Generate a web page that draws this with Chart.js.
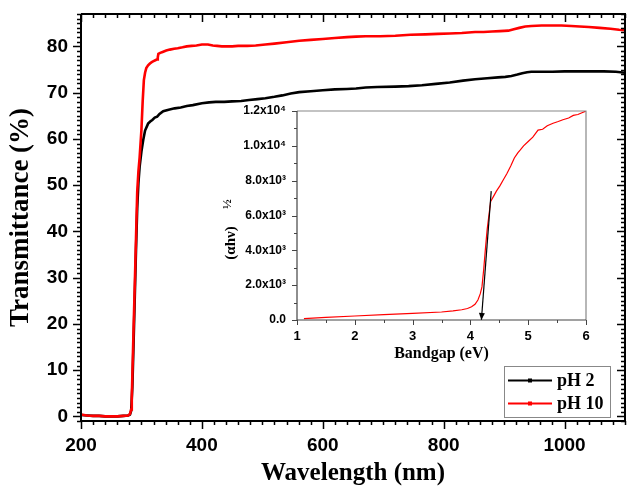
<!DOCTYPE html>
<html><head><meta charset="utf-8">
<script src="https://cdn.jsdelivr.net/npm/chart.js@4"></script>
<style>
html,body{margin:0;padding:0;background:#fff}
#wrap{position:relative;width:628px;height:490px;overflow:hidden}
canvas{position:absolute;left:0;top:0}
#inset{pointer-events:none}
</style></head>
<body>
<div id="wrap"><canvas id="main" width="628" height="490"></canvas><canvas id="inset" width="628" height="490"></canvas></div>
<script>
// ---------- main chart data ----------
const wl2 = [200,210,220,230,240,250,260,270,278,281,283,285,287,289,291,293,295,297,300,303,306,311,315,318,322,326,330,336,345,355,365,375,385,400,412,423,437,450,465,478,492,505,520,533,547,561,580,600,620,640,655,671,690,720,742,764,787,810,832,852,872,890,902,912,922,930,938,945,960,980,1000,1020,1040,1065,1085,1100];
const t2 = [0.3,0.2,0.1,0.1,0.0,0.0,0.0,0.1,0.2,0.4,1.2,6.5,16,26,36,45,50.5,54,57.3,59.8,61.8,63.3,63.8,64.1,64.6,64.8,65.4,66.0,66.3,66.6,66.8,67.1,67.3,67.7,67.9,68.0,68.0,68.1,68.2,68.4,68.6,68.8,69.1,69.4,69.8,70.1,70.3,70.5,70.7,70.8,70.9,71.1,71.2,71.3,71.4,71.6,71.9,72.2,72.6,72.9,73.1,73.3,73.4,73.6,73.9,74.2,74.4,74.5,74.5,74.5,74.6,74.6,74.6,74.6,74.5,74.3];
const wl10 = [200,210,220,230,240,250,260,270,278,281,283,284,285,287,289,291,293,295,297,300,302,304,306,308,311,314,317,320,323,326,327,328,331,335,341,347,354,360,368,375,383,391,400,410,418,425,433,440,450,460,475,489,505,520,540,561,580,600,620,640,655,671,695,720,745,770,790,810,830,852,866,880,893,907,916,925,935,945,962,980,995,1011,1025,1040,1058,1076,1090,1100];
const t10 = [0.4,0.2,0.1,0.1,0.0,0.0,0.0,0.1,0.2,0.5,1.5,4,9,19,28.5,38.5,48.5,53,56,62,68,72.7,74.3,75.3,75.9,76.3,76.6,76.8,77.0,77.2,77.6,78.4,78.6,78.8,79.1,79.3,79.5,79.6,79.8,80.0,80.1,80.2,80.4,80.4,80.2,80.1,80.0,80.0,80.0,80.1,80.1,80.2,80.4,80.6,80.9,81.2,81.4,81.6,81.8,82.0,82.1,82.2,82.2,82.3,82.5,82.6,82.7,82.8,82.9,83.1,83.1,83.2,83.3,83.4,83.7,84.0,84.3,84.4,84.5,84.5,84.5,84.4,84.3,84.2,84.0,83.8,83.6,83.5];
const xTicks = [200,400,600,800,1000];
const yTicks = [0,10,20,30,40,50,60,70,80];
const seriesNames = ['pH 2','pH 10'];

// ---------- inset data ----------
const bgEv = [1.12,1.5,2.0,2.5,3.0,3.5,3.7,3.85,3.95,4.02,4.08,4.13,4.17,4.2,4.23,4.26,4.29,4.32,4.35,4.4,4.45,4.51,4.57,4.63,4.7,4.76,4.82,4.86,4.92,5.0,5.08,5.17,5.25,5.33,5.43,5.52,5.6,5.7,5.78,5.86,5.93,6.0];
const bgVal = [80,150,230,310,385,460,520,590,660,760,900,1150,1500,1900,2900,4100,5200,6000,6800,7100,7400,7700,8050,8400,8850,9300,9600,9750,10000,10250,10500,10900,10950,11150,11300,11400,11500,11600,11750,11800,11900,12000];
const tanEv = [4.19,4.36];
const tanVal = [0,7400];
const insetXTicks = [1,2,3,4,5,6];
const insetYTicks = [0,2000,4000,6000,8000,10000,12000];
const insetYLabels = ['0.0','2.0x10³','4.0x10³','6.0x10³','8.0x10³','1.0x10⁴','1.2x10⁴'];

const SANS = "'Liberation Sans', Arial, sans-serif";
const SERIF = "'Liberation Serif', 'Times New Roman', serif";

function zeroPad(s){ s.paddingTop=0; s.paddingBottom=0; s.paddingLeft=0; s.paddingRight=0; }

function makeFrame(id){
  return {
    id: id,
    afterDraw(chart, args, o){
      const {ctx, chartArea:a, scales:{x,y}} = chart;
      ctx.save();
      ctx.lineCap='butt';
      ctx.strokeStyle=o.tickColor; ctx.lineWidth=o.tickWidth;
      ctx.beginPath();
      const isMaj=(v,m)=>Math.abs(v/m-Math.round(v/m))<1e-6;
      for(let v=Math.ceil(x.min/o.xMinor-1e-9)*o.xMinor; v<=x.max+1e-9; v+=o.xMinor){
        const p=Math.round(x.getPixelForValue(v))+0.5;
        const L=isMaj(v,o.xMajor)?o.major:o.minor;
        ctx.moveTo(p,a.bottom); ctx.lineTo(p,a.bottom+L);
        if(o.mirror){ctx.moveTo(p,a.top); ctx.lineTo(p,a.top+L);}
      }
      for(let v=Math.ceil(y.min/o.yMinor-1e-9)*o.yMinor; v<=y.max+1e-9; v+=o.yMinor){
        const p=Math.round(y.getPixelForValue(v))+0.5;
        const L=isMaj(v,o.yMajor)?o.major:o.minor;
        ctx.moveTo(a.left,p); ctx.lineTo(a.left-L,p);
        if(o.mirror){ctx.moveTo(a.right,p); ctx.lineTo(a.right-L,p);}
      }
      ctx.stroke();
      ctx.lineWidth=o.width;
      ctx.strokeStyle=o.sideColor;
      ctx.beginPath();
      ctx.moveTo(a.left,a.top); ctx.lineTo(a.right,a.top); ctx.lineTo(a.right,a.bottom);
      ctx.stroke();
      ctx.strokeStyle=o.color;
      ctx.beginPath();
      ctx.moveTo(a.left,a.top); ctx.lineTo(a.left,a.bottom); ctx.lineTo(a.right,a.bottom);
      ctx.stroke();
      ctx.restore();
    }
  };
}

const legendPlugin = {
  id:'boxLegend',
  afterDraw(chart){
    const ctx=chart.ctx;
    const bx=504, by=366, bw=106, bh=51;
    ctx.save();
    ctx.fillStyle='#fff'; ctx.fillRect(bx,by,bw,bh);
    ctx.strokeStyle='#888'; ctx.lineWidth=1;
    ctx.strokeRect(bx+0.5,by+0.5,bw,bh);
    chart.data.datasets.forEach((ds,i)=>{
      const yy=380.5+i*23;
      ctx.strokeStyle=ds.borderColor; ctx.lineWidth=2;
      ctx.beginPath(); ctx.moveTo(508,yy); ctx.lineTo(552,yy); ctx.stroke();
      ctx.fillStyle=ds.borderColor; ctx.fillRect(528,yy-2,4,4);
      ctx.fillStyle='#000';
      ctx.font='bold 18px '+SERIF;
      ctx.textBaseline='middle'; ctx.textAlign='left';
      ctx.fillText(ds.label,557,yy+1);
    });
    ctx.restore();
  }
};

new Chart(document.getElementById('main'),{
  type:'line',
  data:{datasets:[
    {label:seriesNames[0], data:wl2.map((v,i)=>({x:v,y:t2[i]})), borderColor:'#000000', backgroundColor:'#000000', borderWidth:2.6, pointRadius:0, tension:0, order:1},
    {label:seriesNames[1], data:wl10.map((v,i)=>({x:v,y:t10[i]})), borderColor:'#ff0000', backgroundColor:'#ff0000', borderWidth:2.6, pointRadius:0, tension:0, order:0}
  ]},
  options:{
    responsive:false, animation:false, events:[],
    layout:{padding:{left:0,top:14,right:3,bottom:0}},
    plugins:{legend:{display:false}, tooltip:{enabled:false},
      mainFrame:{color:'#000', sideColor:'#000', width:2, tickColor:'#000', tickWidth:1.5, xMinor:20, xMajor:200, yMinor:1, yMajor:10, major:8, minor:4, mirror:true}},
    scales:{
      x:{type:'linear', min:200, max:1100,
        afterBuildTicks:s=>{s.ticks=xTicks.map(v=>({value:v}));},
        afterFit:s=>{s.height=69; zeroPad(s);},
        grid:{display:false, drawTicks:false}, border:{display:false},
        ticks:{callback:v=>String(v), color:'#000', padding:13, maxRotation:0, autoSkip:false, font:{family:SANS,size:19,weight:'bold'}},
        title:{display:true, text:'Wavelength (nm)', color:'#000', font:{family:SERIF,size:25,weight:'bold'}, padding:{top:0,bottom:1}}
      },
      y:{type:'linear', min:-1, max:87,
        afterBuildTicks:s=>{s.ticks=yTicks.map(v=>({value:v}));},
        afterFit:s=>{s.width=81; zeroPad(s);},
        grid:{display:false, drawTicks:false}, border:{display:false},
        ticks:{callback:v=>String(v), color:'#000', padding:13, autoSkip:false, font:{family:SANS,size:19,weight:'bold'}},
        title:{display:true, text:'Transmittance (%)', color:'#000', font:{family:SERIF,size:27,weight:'bold'}, padding:{top:5,bottom:0}}
      }
    }
  },
  plugins:[makeFrame('mainFrame'), legendPlugin]
});

const insetExtras = {
  id:'insetExtras',
  afterDraw(chart){
    const ctx=chart.ctx;
    ctx.save();
    const pts=chart.getDatasetMeta(1).data;
    const p0=pts[0], p1=pts[1];
    const ang=Math.atan2(p0.y-p1.y,p0.x-p1.x);
    const L=7, W=3;
    ctx.fillStyle='#000';
    ctx.beginPath();
    ctx.moveTo(p0.x,p0.y);
    ctx.lineTo(p0.x-L*Math.cos(ang)+W*Math.sin(ang), p0.y-L*Math.sin(ang)-W*Math.cos(ang));
    ctx.lineTo(p0.x-L*Math.cos(ang)-W*Math.sin(ang), p0.y-L*Math.sin(ang)+W*Math.cos(ang));
    ctx.closePath(); ctx.fill();
    ctx.translate(231,243);
    ctx.rotate(-Math.PI/2);
    ctx.fillStyle='#000';
    ctx.textBaseline='middle'; ctx.textAlign='center';
    ctx.font='bold 15px '+SERIF;
    ctx.fillText('(αhν)',0,0);
    ctx.font='bold 13px '+SERIF;
    ctx.fillText('½',39,-3);
    ctx.restore();
  }
};

new Chart(document.getElementById('inset'),{
  type:'line',
  data:{datasets:[
    {label:'bandgap', data:bgEv.map((v,i)=>({x:v,y:bgVal[i]})), borderColor:'#ff0000', borderWidth:1.2, pointRadius:0, tension:0, order:1},
    {label:'tangent', data:tanEv.map((v,i)=>({x:v,y:tanVal[i]})), borderColor:'#000000', borderWidth:1.2, pointRadius:0, tension:0, order:0}
  ]},
  options:{
    responsive:false, animation:false, events:[],
    layout:{padding:{left:240,top:111,right:42,bottom:126}},
    plugins:{legend:{display:false}, tooltip:{enabled:false},
      insetFrame:{color:'#444', sideColor:'#888', width:1.2, tickColor:'#444', tickWidth:1, xMinor:0.5, xMajor:1, yMinor:1000, yMajor:2000, major:5, minor:3, mirror:false}},
    scales:{
      x:{type:'linear', min:1, max:6,
        afterBuildTicks:s=>{s.ticks=insetXTicks.map(v=>({value:v}));},
        afterFit:s=>{s.height=44; zeroPad(s);},
        grid:{display:false, drawTicks:false}, border:{display:false},
        ticks:{callback:v=>String(v), color:'#000', padding:9, maxRotation:0, autoSkip:false, font:{family:SANS,size:13,weight:'bold'}},
        title:{display:true, text:'Bandgap (eV)', color:'#000', font:{family:SERIF,size:16,weight:'bold'}, padding:{top:0,bottom:1}}
      },
      y:{type:'linear', min:0, max:12000,
        afterBuildTicks:s=>{s.ticks=insetYTicks.map(v=>({value:v}));},
        afterFit:s=>{s.width=57; zeroPad(s);},
        grid:{display:false, drawTicks:false}, border:{display:false},
        ticks:{callback:(v)=>insetYLabels[insetYTicks.indexOf(v)], color:'#000', padding:11, autoSkip:false, font:{family:SANS,size:12,weight:'bold'}}
      }
    }
  },
  plugins:[makeFrame('insetFrame'), insetExtras]
});
</script>
</body></html>
